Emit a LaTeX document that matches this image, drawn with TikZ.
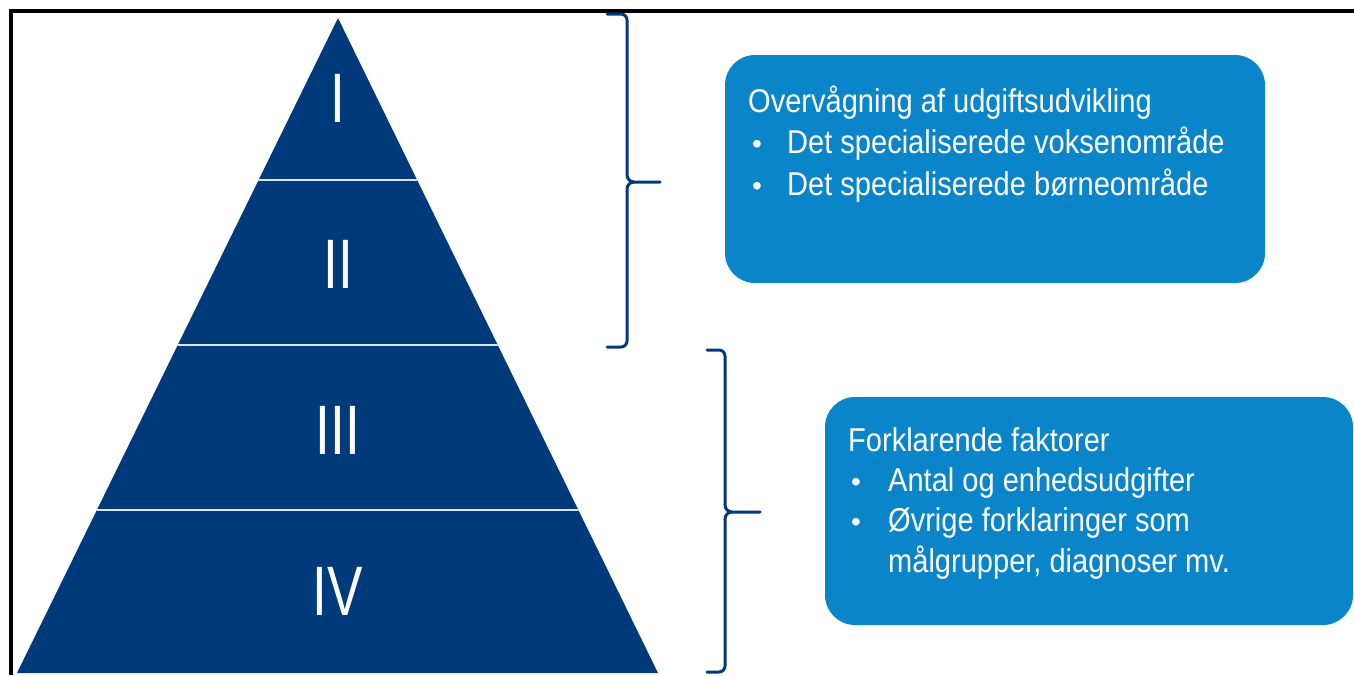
\documentclass[tikz,border=0pt]{standalone}
\usepackage{fontspec}
\setmainfont{Liberation Sans}
\definecolor{navy}{RGB}{0,58,122}
\definecolor{boxblue}{RGB}{10,133,202}
\definecolor{divider}{RGB}{215,230,245}
\newcommand{\sqz}[2][0.88]{\scalebox{#1}[1]{#2}}
\begin{document}
\begin{tikzpicture}[x=1pt,y=-1pt,
  tier/.style={text=white, inner sep=0pt, font=\fontsize{70}{70}\selectfont},
  infobox/.style={fill=boxblue, rounded corners=30pt},
  boxtext/.style={text=white, inner sep=0pt, anchor=base west, font=\fontsize{33}{36}\selectfont},
  bulletmark/.style={text=white, inner sep=0pt, anchor=base, font=\fontsize{28}{36}\selectfont},
  bracket/.style={draw=navy, line width=3pt, line cap=round, line join=round},
  frameline/.style={draw=black, line width=4pt}
]
\useasboundingbox (0,0) rectangle (1354,675);
% frame
\path[frameline] (11,675) -- (11,11) -- (1354,11);
% pyramid
\coordinate (apex) at (338,18);
\coordinate (bl) at (17,673);
\coordinate (br) at (658,673);
\fill[navy] (apex) -- (br) -- (bl) -- cycle;
\begin{scope}
\clip (apex) -- (br) -- (bl) -- cycle;
\draw[divider, line width=1.8pt] (0,180) -- (700,180);
\draw[divider, line width=1.8pt] (0,345) -- (700,345);
\draw[divider, line width=1.8pt] (0,510) -- (700,510);
\end{scope}
\node[tier] (t1) at (338,98) {\sqz[0.76]{I}};
\node[tier] (t2) at (338,264) {\sqz[0.76]{II}};
\node[tier] (t3) at (338,430) {\sqz[0.76]{III}};
\node[tier] (t4) at (338,591) {\sqz[0.76]{IV}};
% brackets
\path[bracket] (607,14) -- (621,14) to[out=0,in=90] (627,20) -- (627,175)
  to[out=-90,in=180] (634,182) -- (660,182);
\path[bracket] (634,182) to[out=180,in=90] (627,189) -- (627,341)
  to[out=-90,in=0] (621,347) -- (607,347);
\path[bracket] (707,350) -- (719,350) to[out=0,in=90] (725,356) -- (725,505)
  to[out=-90,in=180] (732,512) -- (760,512);
\path[bracket] (732,512) to[out=180,in=90] (725,519) -- (725,666)
  to[out=-90,in=0] (719,672) -- (707,672);
% box 1
\path[infobox] (725,55) rectangle (1265,283);
\node[boxtext] (b1t) at (748,112) {\sqz{Overvågning af udgiftsudvikling}};
\node[bulletmark] (b1b1) at (757,153) {•};
\node[boxtext] (b1l1) at (787,153) {\sqz{Det specialiserede voksenområde}};
\node[bulletmark] (b1b2) at (757,195) {•};
\node[boxtext] (b1l2) at (787,195) {\sqz{Det specialiserede børneområde}};
% box 2
\path[infobox] (825,397) rectangle (1353,625);
\node[boxtext] (b2t) at (848,451) {\sqz{Forklarende faktorer}};
\node[bulletmark] (b2b1) at (856,491) {•};
\node[boxtext] (b2l1) at (888,491) {\sqz{Antal og enhedsudgifter}};
\node[bulletmark] (b2b2) at (856,531) {•};
\node[boxtext] (b2l2) at (888,531) {\sqz{Øvrige forklaringer som}};
\node[boxtext] (b2l3) at (888,572) {\sqz{målgrupper, diagnoser mv.}};
\end{tikzpicture}
\end{document}
